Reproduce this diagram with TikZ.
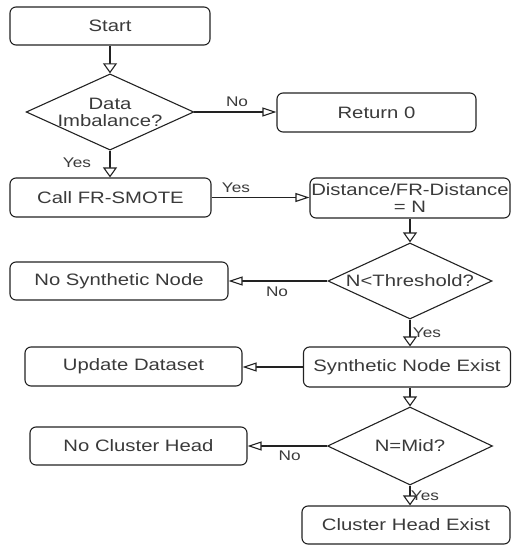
\documentclass[tikz,border=0pt]{standalone}
\usepackage{fontspec}
\setmainfont{Liberation Sans}[FakeStretch=1.23]
\usetikzlibrary{arrows.meta,shapes.geometric}
\definecolor{txt}{HTML}{3A3A3A}
\definecolor{ln}{HTML}{222222}
\tikzset{
  box/.style={draw=ln, line width=1.1pt, rounded corners=6pt, text=txt, align=center,
     inner sep=0pt, font=\fontsize{16.5}{17}\selectfont},
  dec/.style={draw=ln, line width=1.1pt, shape=diamond, aspect=2.2, text=txt, align=center,
     inner sep=0pt, font=\fontsize{16.5}{17}\selectfont},
  varrow/.style={draw=ln, line width=1.1pt, -{Triangle[open,length=10pt,width=14pt,fill=white]}},
  harrow/.style={draw=ln, line width=1.1pt, -{Triangle[open,length=14pt,width=9pt,fill=white]}},
  lab/.style={text=txt, inner sep=0pt, font=\fontsize{14}{15}\selectfont},
}
\begin{document}
\begin{tikzpicture}[x=1pt,y=-1pt]
\useasboundingbox (0,0) rectangle (512,545);
\node[box, minimum width=200pt, minimum height=38pt] (start) at (110,26) {Start};
\node[dec, minimum width=166pt, minimum height=76pt] (d1) at (110,112) {Data\\Imbalance?};
\node[box, minimum width=199pt, minimum height=39pt] (ret) at (376.5,112.5) {Return 0};
\node[box, minimum width=201pt, minimum height=39pt] (call) at (110.5,197.5) {Call FR-SMOTE};
\node[box, minimum width=200pt, minimum height=40pt] (dist) at (410,198) {Distance/FR-Distance\\= N};
\node[dec, minimum width=164pt, minimum height=76pt] (d2) at (410,281) {N<Threshold?};
\node[box, minimum width=218pt, minimum height=38pt] (nosyn) at (119,281) {No Synthetic Node};
\node[box, minimum width=207pt, minimum height=40pt] (synex) at (407,367) {Synthetic Node Exist};
\node[box, minimum width=217pt, minimum height=39pt] (upd) at (133.5,366.5) {Update Dataset};
\node[dec, minimum width=165pt, minimum height=78pt] (d3) at (410,446) {N=Mid?};
\node[box, minimum width=217pt, minimum height=38pt] (nocl) at (138.5,446) {No Cluster Head};
\node[box, minimum width=208pt, minimum height=38pt] (clex) at (406,525) {Cluster Head Exist};

\draw[varrow] (start.south -| d1.north) -- (d1.north);
\draw[harrow] (d1.east) -- (ret.west |- d1.east) node[lab, pos=0.52, yshift=10pt] {No};
\draw[varrow] (d1.south) -- (d1.south |- call.north) node[lab, pos=0.46, xshift=-33pt] {Yes};
\draw[harrow] (call.east) -- (dist.west |- call.east) node[lab, pos=0.25, yshift=10pt] {Yes};
\draw[varrow] (dist.south -| d2.north) -- (d2.north);
\draw[harrow] (d2.west) -- (nosyn.east |- d2.west) node[lab, pos=0.51, yshift=-11pt] {No};
\draw[varrow] (d2.south) -- (d2.south |- synex.north) node[lab, pos=0.5, xshift=17pt] {Yes};
\draw[harrow] (synex.west) -- (upd.east |- synex.west);
\draw[varrow] (synex.south -| d3.north) -- (d3.north);
\draw[harrow] (d3.west) -- (nocl.east |- d3.west) node[lab, pos=0.47, yshift=-10pt] {No};
\draw[varrow] (d3.south) -- (d3.south |- clex.north) node[lab, pos=0.52, xshift=15pt] {Yes};
\end{tikzpicture}
\end{document}
